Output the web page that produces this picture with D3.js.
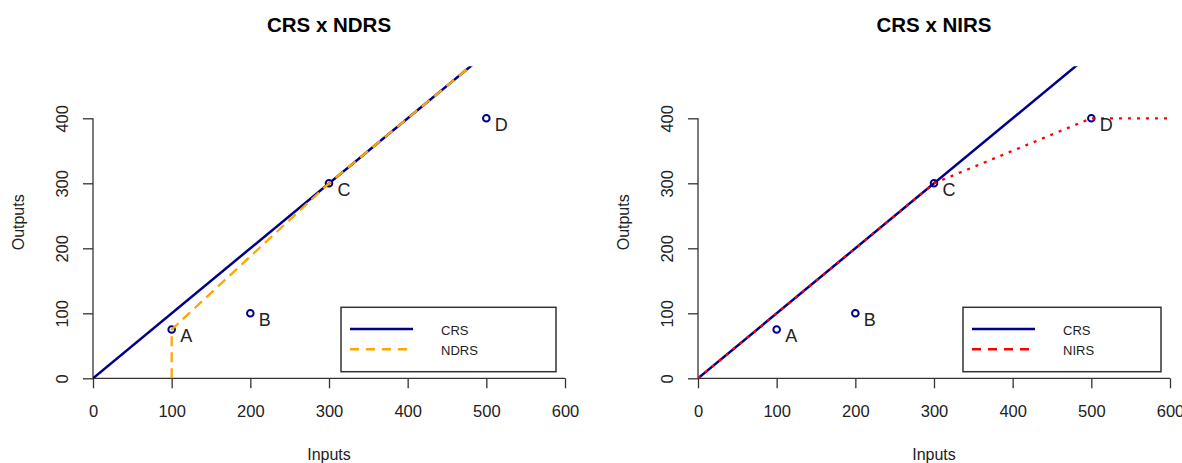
<!DOCTYPE html>
<html lang="en">
<head>
<meta charset="utf-8" />
<style>
  body { margin: 0; background: #fff; }
  svg text { font-family: "Liberation Sans", Arial, sans-serif; }
  .title { font-weight: bold; font-size: 20.5px; fill: #000; text-anchor: middle; }
  .axisLabel { font-size: 16px; fill: #222; text-anchor: middle; }
  .tick text { font-size: 16.5px; fill: #222; }
  .tick line, .axisLine { stroke: #333; stroke-width: 1.3px; }
  .pointLabel { font-size: 18px; fill: #222; }
  .legendBox { fill: #fff; stroke: #333; stroke-width: 1.5px; }
  .legendText { font-size: 13px; fill: #222; }
</style>
</head>
<body>
<script src="https://cdn.jsdelivr.net/npm/d3@7"></script>
<script>
// DMU data
var dmuNames   = ["A", "B", "C", "D"];
var dmuInputs  = [100, 200, 300, 500];
var dmuOutputs = [75, 100, 300, 400];

// frontiers (input, output)
var crsFrontier  = [[0, 0], [600, 600]];
var ndrsFrontier = [[100, 0], [100, 75], [300, 300], [600, 600]];
var nirsFrontier = [[0, 0], [300, 300], [500, 400], [600, 400]];

var xTicks = [0, 100, 200, 300, 400, 500, 600];
var yTicks = [0, 100, 200, 300, 400];

var width = 1182, height = 463;

var svg = d3.select("body").append("svg")
    .attr("width", width)
    .attr("height", height);

var panels = [
    { id: "p1", left: 93, legendLeft: 341, legendWidth: 215, title: "CRS x NDRS",
      frontier: ndrsFrontier, name: "NDRS", color: "#FFA500",
      plotDash: "10,6", legendDash: "9,7" },
    { id: "p2", left: 698, legendLeft: 963, legendWidth: 198, title: "CRS x NIRS",
      frontier: nirsFrontier, name: "NIRS", color: "#FF0000",
      plotDash: "3,6", legendDash: "9,7" }
];

var plotW = 472, plotTop = 66.3, plotBottom = 378.3;

panels.forEach(function (p) {
    var x = d3.scaleLinear().domain([0, 600]).range([p.left, p.left + plotW]);
    var y = d3.scaleLinear().domain([0, 480]).range([plotBottom, plotTop]);
    var g = svg.append("g");

    g.append("clipPath").attr("id", "clip-" + p.id)
      .append("rect")
        .attr("x", p.left).attr("y", plotTop)
        .attr("width", plotW).attr("height", plotBottom - plotTop);

    // title
    g.append("text").attr("class", "title")
        .attr("x", p.left + plotW / 2).attr("y", 31.7)
        .text(p.title);

    // x axis
    var xa = g.append("g")
        .attr("transform", "translate(0," + plotBottom + ")")
        .call(d3.axisBottom(x).tickValues(xTicks).tickSize(10).tickFormat(d3.format("d")));
    xa.select(".domain").remove();
    xa.selectAll(".tick text").attr("y", 39).attr("dy", null).attr("fill", null);
    xa.selectAll(".tick line").attr("stroke", null);
    xa.append("line").attr("class", "axisLine")
        .attr("x1", x(0)).attr("x2", x(600));

    // y axis
    var ya = g.append("g")
        .attr("transform", "translate(" + p.left + ",0)")
        .call(d3.axisLeft(y).tickValues(yTicks).tickSize(10).tickFormat(d3.format("d")));
    ya.select(".domain").remove();
    ya.selectAll(".tick line").attr("stroke", null);
    ya.selectAll(".tick text")
        .attr("x", null).attr("dy", null).attr("fill", null)
        .attr("text-anchor", "middle")
        .attr("transform", "translate(-25,0) rotate(-90)");
    ya.append("line").attr("class", "axisLine")
        .attr("y1", y(0)).attr("y2", y(400));

    // axis titles
    g.append("text").attr("class", "axisLabel")
        .attr("x", p.left + plotW / 2).attr("y", 460)
        .text("Inputs");
    g.append("text").attr("class", "axisLabel")
        .attr("transform", "translate(" + (p.left - 69) + "," + ((plotTop + plotBottom) / 2) + ") rotate(-90)")
        .text("Outputs");

    var line = d3.line().x(function (d) { return x(d[0]); }).y(function (d) { return y(d[1]); });
    var plotArea = g.append("g").attr("clip-path", "url(#clip-" + p.id + ")");

    plotArea.append("path")
        .attr("d", line(crsFrontier))
        .attr("fill", "none").attr("stroke", "#00008B").attr("stroke-width", 2.5);

    // points
    plotArea.selectAll("circle").data(dmuNames).enter().append("circle")
        .attr("cx", function (d, i) { return x(dmuInputs[i]); })
        .attr("cy", function (d, i) { return y(dmuOutputs[i]); })
        .attr("r", 3.3)
        .attr("fill", "none").attr("stroke", "#00008B").attr("stroke-width", 2);

    plotArea.append("path")
        .attr("d", line(p.frontier))
        .attr("fill", "none").attr("stroke", p.color).attr("stroke-width", 2.3)
        .attr("stroke-dasharray", p.plotDash);

    g.selectAll(".pointLabel").data(dmuNames).enter().append("text")
        .attr("class", "pointLabel")
        .attr("x", function (d, i) { return x(dmuInputs[i]) + 8.5; })
        .attr("y", function (d, i) { return y(dmuOutputs[i]) + 12.5; })
        .text(function (d) { return d; });

    // legend
    var lg = g.append("g").attr("transform", "translate(" + p.legendLeft + ",307.3)");
    lg.append("rect").attr("class", "legendBox")
        .attr("width", p.legendWidth).attr("height", 64.4);
    var items = [
        { name: "CRS", color: "#00008B", dash: null },
        { name: p.name, color: p.color, dash: p.legendDash }
    ];
    items.forEach(function (it, i) {
        var ly = 21.7 + i * 20.3;
        lg.append("line")
            .attr("x1", 9).attr("x2", 72).attr("y1", ly).attr("y2", ly)
            .attr("stroke", it.color).attr("stroke-width", 2.5)
            .attr("stroke-dasharray", it.dash);
        lg.append("text").attr("class", "legendText")
            .attr("x", 100).attr("y", ly + 5.7)
            .text(it.name);
    });
});
</script>
</body>
</html>
